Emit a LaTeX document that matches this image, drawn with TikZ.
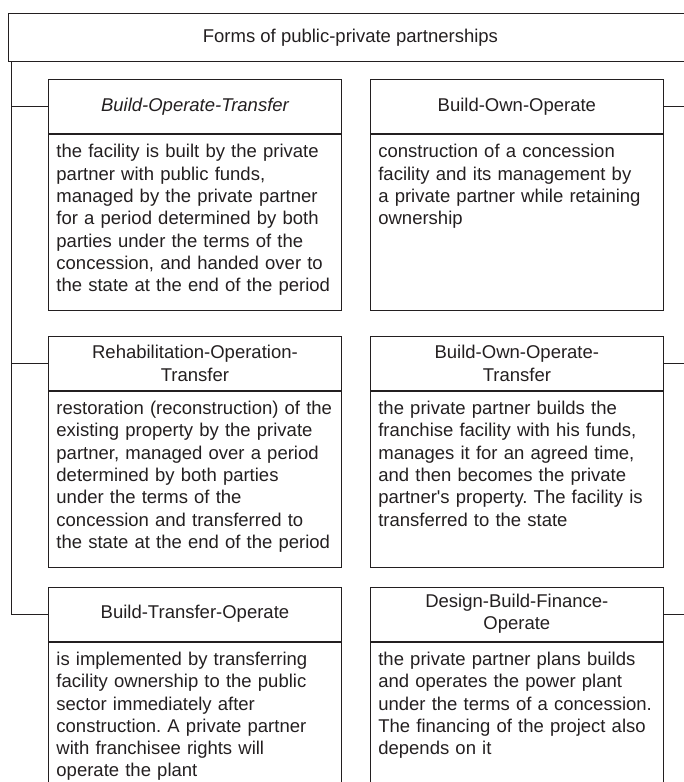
\documentclass[tikz,border=0pt]{standalone}
\usepackage{fontspec}
\setmainfont{Liberation Sans}
\frenchspacing
\usetikzlibrary{positioning}
\definecolor{ink}{RGB}{35,31,32}
\tikzset{%
    form head/.style={%
        draw, text width=277pt, inner xsep=8pt, minimum height=54pt, align=center
    },
    form text/.style={%
        draw, text width=277pt, inner xsep=8pt, inner ysep=10pt,
        text height=13.5pt, text depth=142.5pt, align=left
    }
}

\begin{document}
\begin{tikzpicture}[x=1pt,y=-1pt,node distance=25pt,color=ink,line width=0.9pt,
  font=\fontsize{18.5}{22.3}\selectfont]
  \useasboundingbox (0,0) rectangle (683,782);

  \node[draw,anchor=north west,minimum width=684pt,minimum height=48pt] (title) at (8,13)
    {Forms of public-private partnerships};

  \node[form head,anchor=north west] (bot) at (48,79) {\itshape Build-Operate-Transfer};
  \node[form text] (bot-d) [below=0pt of bot]
    {the facility is built by the private\\partner with public funds,\\managed by the private partner\\for a period determined by both\\parties under the terms of the\\concession, and handed over to\\the state at the end of the period};
  \node[form head] (rot) [below=25pt of bot-d] {Rehabilitation-Operation-\\Transfer};
  \node[form text] (rot-d) [below=0pt of rot]
    {restoration (reconstruction) of the\\existing property by the private\\partner, managed over a period\\determined by both parties\\under the terms of the\\concession and transferred to\\the state at the end of the period};
  \node[form head] (bto) [below=19pt of rot-d] {Build-Transfer-Operate};
  \node[form text] (bto-d) [below=0pt of bto]
    {is implemented by transferring\\facility ownership to the public\\sector immediately after\\construction. A private partner\\with franchisee rights will\\operate the plant};

  \node[form head] (boo) [right=28pt of bot] {Build-Own-Operate};
  \node[form text] (boo-d) [below=0pt of boo]
    {construction of a concession\\facility and its management by\\a private partner while retaining\\ownership};
  \node[form head] (boot) [right=28pt of rot] {Build-Own-Operate-\\Transfer};
  \node[form text] (boot-d) [below=0pt of boot]
    {the private partner builds the\\franchise facility with his funds,\\manages it for an agreed time,\\and then becomes the private\\partner\textquotesingle s property. The facility is\\transferred to the state};
  \node[form head] (dbfo) [right=28pt of bto] {Design-Build-Finance-\\Operate};
  \node[form text] (dbfo-d) [below=0pt of dbfo]
    {the private partner plans builds\\and operates the power plant\\under the terms of a concession.\\The financing of the project also\\depends on it};

  \coordinate (lx) at (11,0);
  \coordinate (rx) at (693,0);
  \draw (lx |- title.south) -- (lx |- bto.west)
    (lx |- bot.west) -- (bot.west)
    (lx |- rot.west) -- (rot.west)
    (lx |- bto.west) -- (bto.west);
  \draw (rx |- title.south) -- (rx |- dbfo.east)
    (boo.east) -- (rx |- boo.east)
    (boot.east) -- (rx |- boot.east)
    (dbfo.east) -- (rx |- dbfo.east);
\end{tikzpicture}
\end{document}
